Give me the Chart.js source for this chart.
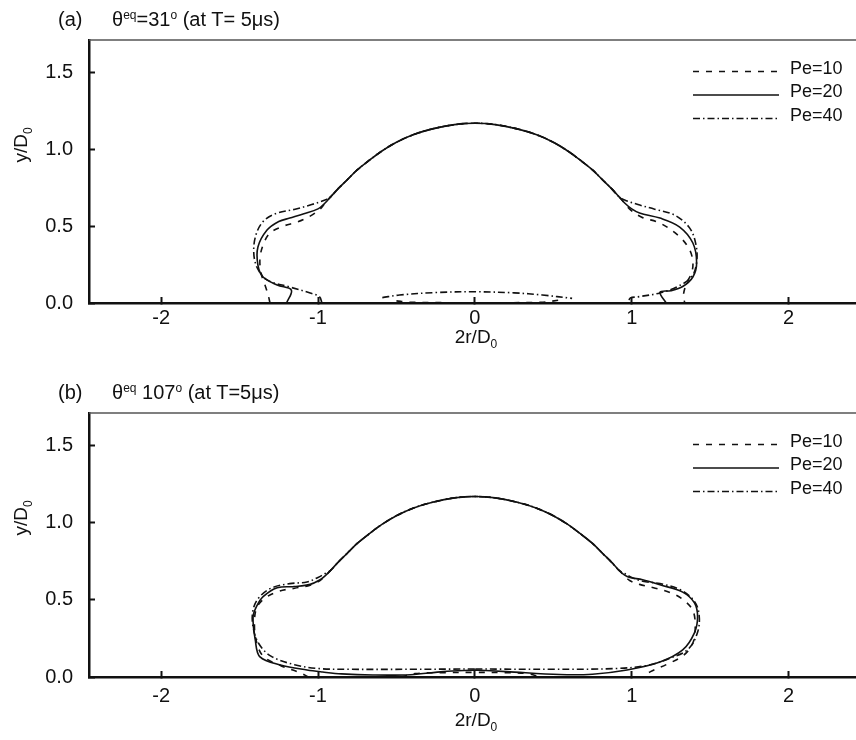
<!DOCTYPE html>
<html>
<head>
<meta charset="utf-8">
<script src="https://cdn.jsdelivr.net/npm/chart.js@4/dist/chart.umd.min.js"></script>
<style>
  body { margin: 0; background: #fff; overflow: hidden; }
  #wrap { position: relative; width: 856px; height: 740px; font-family: "Liberation Sans", Arial, sans-serif; color: #111; }
  canvas { position: absolute; left: 0; }
  .txt { position: absolute; font-size: 19px; line-height: 22px; white-space: nowrap; }
  .ttl { font-size: 20px; }
  .txt sup { font-size: 12px; line-height: 0; vertical-align: 7px; }
  .txt sub { font-size: 12px; line-height: 0; vertical-align: -5px; }
  .mid { transform: translate(-50%, -50%); }
  .rot { transform: translate(-50%, -50%) rotate(-90deg); }
</style>
</head>
<body>
<div id="wrap">
  <canvas id="chartA" width="856" height="373" style="top:0"></canvas>
  <canvas id="chartB" width="856" height="367" style="top:373px"></canvas>

  <div class="txt ttl" style="left:58px;top:8px">(a)</div>
  <div class="txt ttl" style="left:112px;top:8px">θ<sup>eq</sup>=31<sup>o</sup> (at T= 5μs)</div>
  <div class="txt rot" style="left:21px;top:145px">y/D<sub>0</sub></div>
  <div class="txt mid" style="left:476px;top:337px">2r/D<sub>0</sub></div>

  <div class="txt ttl" style="left:58px;top:381px">(b)</div>
  <div class="txt ttl" style="left:112px;top:381px">θ<sup>eq</sup> 107<sup>o</sup> (at T=5μs)</div>
  <div class="txt rot" style="left:21px;top:518px">y/D<sub>0</sub></div>
  <div class="txt mid" style="left:476px;top:720px">2r/D<sub>0</sub></div>
</div>
<script>
// series names and axis ticks
let seriesLabels = ['Pe=10', 'Pe=20', 'Pe=40'],
    xTicks = [-2, -1, 0, 1, 2],
    yTicks = [0, 0.5, 1.0, 1.5];

// top of the drop, the three runs lie on top of each other here
let capX = [-0.92, -0.87, -0.815, -0.75, -0.67, -0.59, -0.5, -0.39, -0.27, -0.13, 0, 0.13, 0.27, 0.39, 0.5, 0.59, 0.67, 0.75, 0.815, 0.87, 0.92],
    capY = [0.69, 0.745, 0.8, 0.865, 0.93, 0.99, 1.045, 1.095, 1.132, 1.16, 1.169, 1.16, 1.132, 1.095, 1.045, 0.99, 0.93, 0.865, 0.8, 0.745, 0.69];

// (a) theta 31 : left side (bottom up), right side (neck down), inner film
let a10LX = [-1.306, -1.318, -1.338, -1.363, -1.37, -1.35, -1.306, -1.22, -1.134, -1.05, -0.987, -0.955],
    a10LY = [0, 0.052, 0.117, 0.195, 0.29, 0.377, 0.455, 0.5, 0.526, 0.565, 0.61, 0.65],
    a10RX = [0.955, 0.987, 1.064, 1.18, 1.306, 1.37, 1.39, 1.382, 1.35, 1.33, 1.338],
    a10RY = [0.65, 0.61, 0.558, 0.52, 0.43, 0.344, 0.266, 0.195, 0.13, 0.052, 0],
    a10FX = [-0.5, -0.42, 0, 0.42, 0.55],
    a10FY = [0.014, 0.005, 0.002, 0.005, 0.02];

let a20LX = [-1.2, -1.17, -1.26, -1.35, -1.383, -1.383, -1.325, -1.25, -1.18, -1.09, -1.0, -0.955],
    a20LY = [0, 0.084, 0.117, 0.169, 0.247, 0.364, 0.474, 0.53, 0.552, 0.58, 0.612, 0.65],
    a20RX = [0.955, 1.0, 1.05, 1.18, 1.306, 1.39, 1.414, 1.39, 1.325, 1.25, 1.18, 1.22],
    a20RY = [0.65, 0.612, 0.585, 0.552, 0.494, 0.39, 0.26, 0.169, 0.107, 0.08, 0.07, 0];

let a40LX = [-0.975, -0.99, -1.05, -1.18, -1.325, -1.39, -1.41, -1.39, -1.34, -1.26, -1.146, -1.04, -0.955],
    a40LY = [0, 0.04, 0.065, 0.104, 0.15, 0.234, 0.344, 0.46, 0.54, 0.584, 0.61, 0.64, 0.67],
    a40RX = [0.955, 1.04, 1.146, 1.274, 1.37, 1.41, 1.414, 1.382, 1.287, 1.18, 1.04, 0.99, 0.98],
    a40RY = [0.67, 0.64, 0.61, 0.571, 0.487, 0.377, 0.266, 0.17, 0.104, 0.065, 0.04, 0.032, 0],
    a40FX = [-0.59, -0.48, -0.25, 0, 0.25, 0.43, 0.62],
    a40FY = [0.035, 0.052, 0.068, 0.073, 0.066, 0.052, 0.03];

// (b) theta 107
let b10LX = [-1.06, -1.12, -1.24, -1.35, -1.395, -1.405, -1.39, -1.34, -1.25, -1.15, -1.05, -0.987, -0.955],
    b10LY = [0, 0.03, 0.075, 0.135, 0.24, 0.36, 0.45, 0.51, 0.555, 0.575, 0.595, 0.625, 0.655],
    b10RX = [0.955, 0.987, 1.05, 1.15, 1.25, 1.33, 1.39, 1.405, 1.39, 1.33, 1.22, 1.12, 1.07],
    b10RY = [0.655, 0.625, 0.6, 0.575, 0.545, 0.5, 0.43, 0.33, 0.22, 0.14, 0.08, 0.035, 0],
    b10FX = [-0.47, -0.38, -0.2, 0, 0.2, 0.33, 0.42],
    b10FY = [0, 0.022, 0.028, 0.03, 0.028, 0.022, 0];

let b20LX = [0, -0.2, -0.41, -0.65, -0.85, -0.97, -1.07, -1.24, -1.37, -1.40, -1.414, -1.39, -1.35, -1.26, -1.15, -1.05, -0.987, -0.955],
    b20LY = [0.045, 0.035, 0.015, 0.013, 0.02, 0.032, 0.045, 0.078, 0.13, 0.24, 0.39, 0.46, 0.52, 0.578, 0.586, 0.6, 0.63, 0.655],
    b20RX = [0.955, 0.987, 1.07, 1.18, 1.325, 1.40, 1.42, 1.40, 1.325, 1.18, 0.97, 0.75, 0.54, 0.2, 0],
    b20RY = [0.66, 0.645, 0.63, 0.597, 0.55, 0.48, 0.39, 0.286, 0.175, 0.097, 0.045, 0.018, 0.016, 0.035, 0.045];

let b40LX = [0, -0.4, -0.8, -1.0, -1.15, -1.30, -1.38, -1.415, -1.415, -1.38, -1.30, -1.18, -1.07, -1.0, -0.955],
    b40LY = [0.052, 0.05, 0.05, 0.055, 0.08, 0.135, 0.22, 0.33, 0.43, 0.51, 0.575, 0.605, 0.615, 0.645, 0.67],
    b40RX = [0.955, 1.0, 1.07, 1.18, 1.31, 1.40, 1.43, 1.42, 1.36, 1.24, 1.1, 0.9, 0.5, 0],
    b40RY = [0.67, 0.645, 0.62, 0.605, 0.565, 0.49, 0.40, 0.29, 0.18, 0.12, 0.075, 0.055, 0.05, 0.052];

const FONT = '"Liberation Sans", Arial, sans-serif';
const INK = '#111';
const dashes = [[6, 7], [], [7, 3, 1.5, 3]];

function pts(xs, ys) {
    return xs.map(function (x, i) { return {x: x, y: ys[i]}; });
}
const gap = {x: null, y: null};

function outline(lx, ly, rx, ry, fx, fy) {
    let d = pts(lx, ly).concat(pts(capX, capY), pts(rx, ry));
    if (fx) d = d.concat([gap], pts(fx, fy));
    return d;
}

// top frame line
const frameLine = {
    id: 'frameLine',
    afterDraw(chart) {
        const ctx = chart.ctx, a = chart.chartArea;
        ctx.save();
        ctx.strokeStyle = '#555';
        ctx.lineWidth = 1.5;
        ctx.beginPath();
        ctx.moveTo(a.left, a.top);
        ctx.lineTo(a.right, a.top);
        ctx.stroke();
        ctx.restore();
    }
};

// legend with long line samples
const peLegend = {
    id: 'peLegend',
    afterDraw(chart, args, opts) {
        const ctx = chart.ctx;
        chart.data.datasets.forEach(function (ds, i) {
            const y = opts.top + i * opts.gap;
            ctx.save();
            ctx.strokeStyle = INK;
            ctx.lineWidth = 1.4;
            ctx.setLineDash(ds.borderDash);
            ctx.beginPath();
            ctx.moveTo(opts.x0, y + 2.5);
            ctx.lineTo(opts.x1, y + 2.5);
            ctx.stroke();
            ctx.setLineDash([]);
            ctx.fillStyle = INK;
            ctx.font = '18px ' + FONT;
            ctx.textBaseline = 'middle';
            ctx.fillText(ds.label, opts.tx, y);
            ctx.restore();
        });
    }
};

function makeChart(id, series, axisH, xPad) {
    return new Chart(document.getElementById(id), {
        type: 'scatter',
        data: {
            datasets: series.map(function (d, i) {
                return {
                    label: seriesLabels[i],
                    data: d,
                    showLine: true,
                    borderColor: INK,
                    borderWidth: 1.6,
                    borderDash: dashes[i],
                    pointRadius: 0,
                    tension: 0.35,
                    spanGaps: false
                };
            })
        },
        options: {
            responsive: false,
            animation: false,
            devicePixelRatio: 1,
            layout: {padding: {top: 40, left: 0, right: 0, bottom: 0}},
            plugins: {
                legend: {display: false},
                tooltip: {enabled: false},
                peLegend: {top: 69, gap: 23.5, x0: 693, x1: 779, tx: 790}
            },
            scales: {
                x: {
                    type: 'linear', min: -2.46, max: 2.43,
                    afterFit: function (s) { s.height = axisH; },
                    afterBuildTicks: function (s) { s.ticks = xTicks.map(function (v) { return {value: v}; }); },
                    ticks: {color: INK, font: {family: FONT, size: 20}, padding: xPad,
                        callback: function (v) { return String(v); }},
                    grid: {drawOnChartArea: false, tickLength: -6, tickWidth: 2, tickColor: INK},
                    border: {color: INK, width: 2.5}
                },
                y: {
                    type: 'linear', min: 0, max: 1.71,
                    afterFit: function (s) { s.width = 89; },
                    afterBuildTicks: function (s) { s.ticks = yTicks.map(function (v) { return {value: v}; }); },
                    ticks: {color: INK, font: {family: FONT, size: 20}, padding: 22,
                        callback: function (v) { return v.toFixed(1); }},
                    grid: {drawOnChartArea: false, tickLength: -6, tickWidth: 2, tickColor: INK},
                    border: {color: INK, width: 2.5}
                }
            }
        },
        plugins: [frameLine, peLegend]
    });
}

makeChart('chartA', [
    outline(a10LX, a10LY, a10RX, a10RY, a10FX, a10FY),
    outline(a20LX, a20LY, a20RX, a20RY),
    outline(a40LX, a40LY, a40RX, a40RY, a40FX, a40FY)
], 373 - 303, 9);

makeChart('chartB', [
    outline(b10LX, b10LY, b10RX, b10RY, b10FX, b10FY),
    outline(b20LX, b20LY, b20RX, b20RY),
    outline(b40LX, b40LY, b40RX, b40RY)
], 367 - 304, 13);
</script>
</body>
</html>
